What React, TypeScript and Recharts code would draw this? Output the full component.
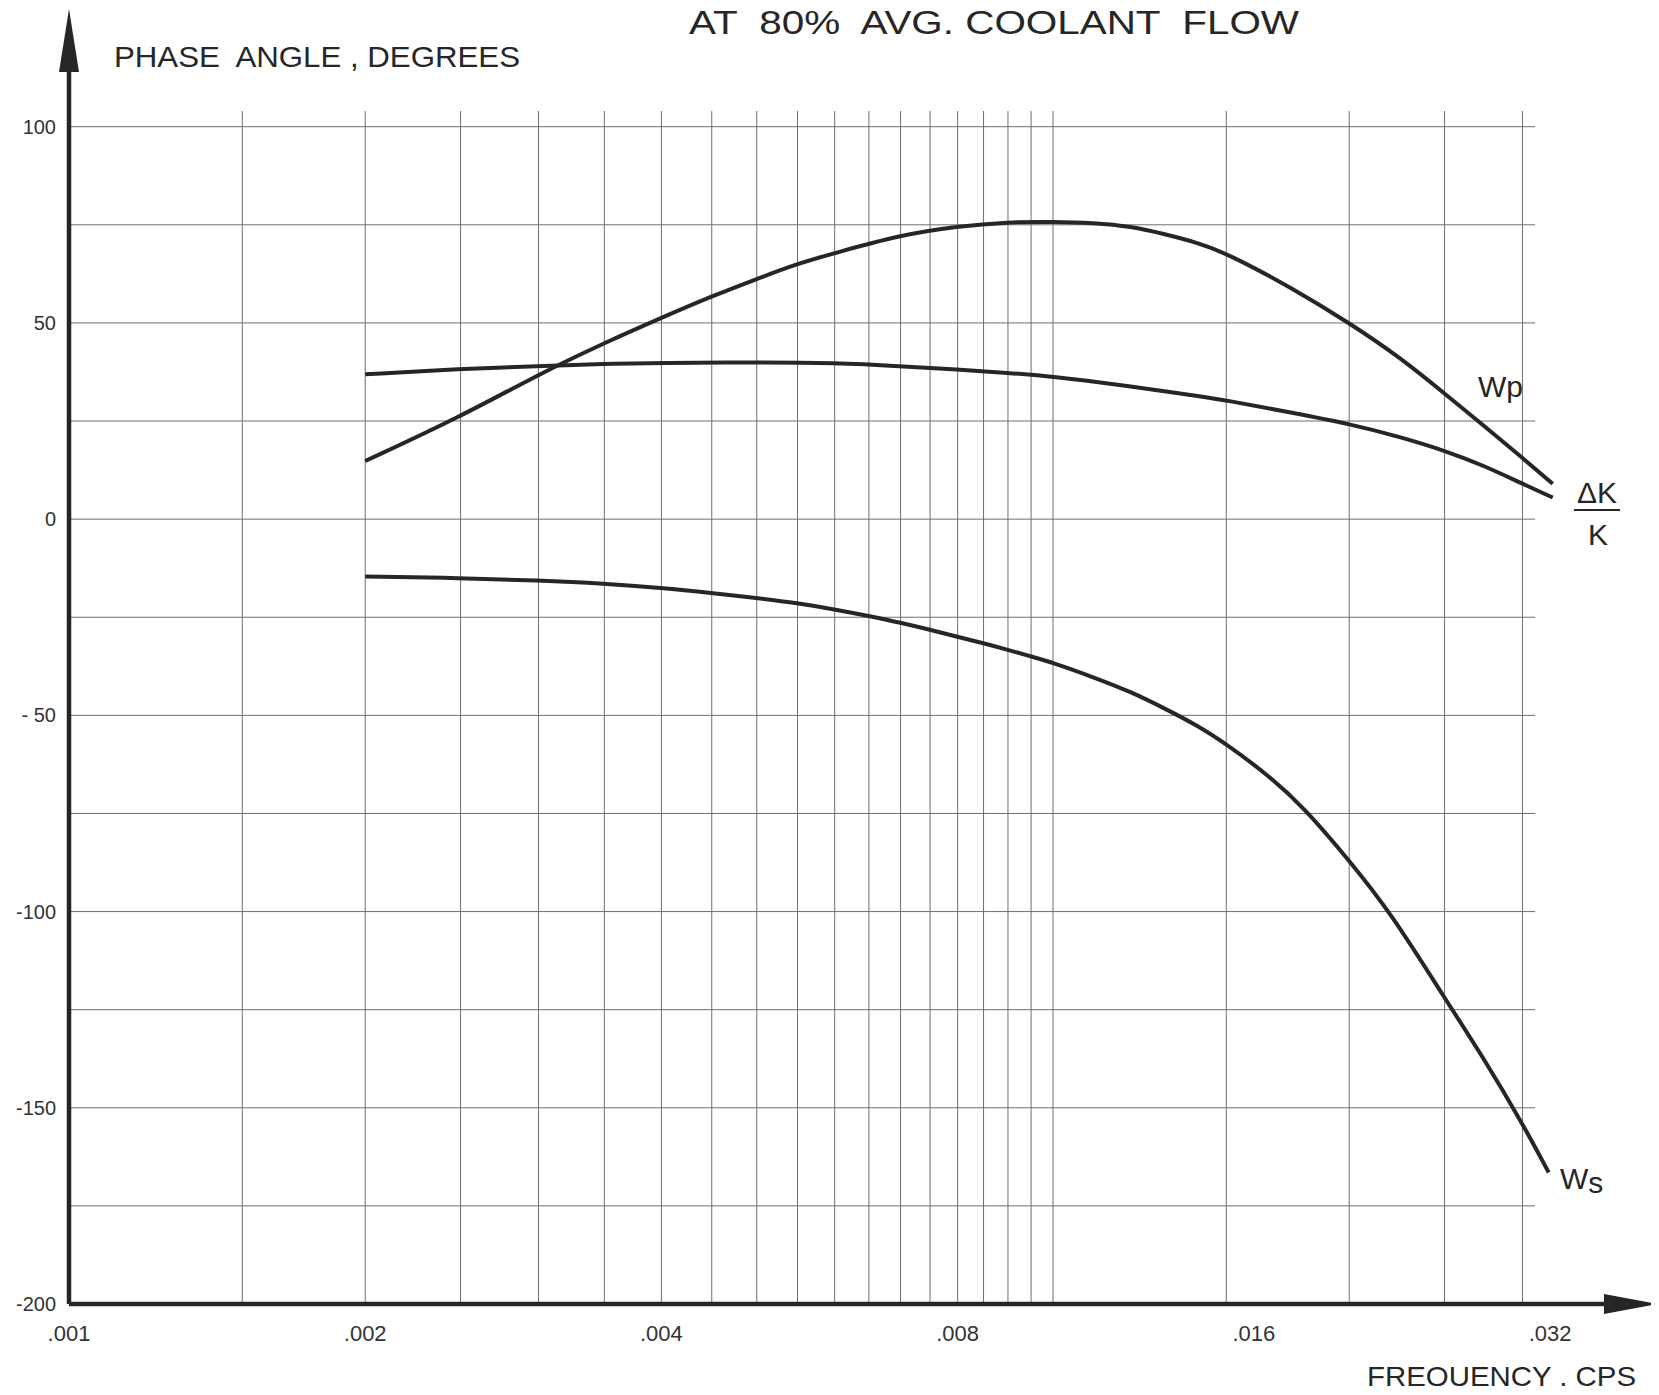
import { LineChart, Line, XAxis, YAxis, ReferenceLine } from 'recharts';

// axis ticks
const freqTicks = [0.001, 0.002, 0.004, 0.008, 0.016, 0.032];
const phaseTicks = [100, 50, 0, -50, -100, -150, -200];
const phaseTickText: Record<string, string> = {
  '100': '100', '50': '50', '0': '0', '-50': '- 50', '-100': '-100', '-150': '-150', '-200': '-200',
};

// grid of the log paper
const freqGrid = [
  0.0015, 0.002, 0.0025, 0.003, 0.0035, 0.004, 0.0045, 0.005, 0.0055, 0.006, 0.0065,
  0.007, 0.0075, 0.008, 0.0085, 0.009, 0.0095, 0.01, 0.015, 0.02, 0.025, 0.03,
];
const phaseGrid = [100, 75, 50, 25, 0, -25, -50, -75, -100, -125, -150, -175];

// Wp
const wpFreq = [0.002, 0.0025, 0.003, 0.0035, 0.004, 0.0045, 0.005, 0.0055, 0.006, 0.007, 0.008, 0.009, 0.01, 0.011, 0.012, 0.013, 0.014, 0.015, 0.0175, 0.02, 0.0225, 0.025, 0.0275, 0.03, 0.0322];
const wpPhase = [14.8, 26.1, 36.9, 44.9, 51.3, 56.8, 61.2, 65.1, 67.8, 72.4, 74.6, 75.7, 75.8, 75.5, 74.6, 72.6, 70.5, 67.8, 58.9, 50, 41.3, 32, 23.5, 15.6, 9];

// dK/K
const dkFreq = [0.002, 0.0025, 0.003, 0.0035, 0.004, 0.005, 0.006, 0.007, 0.008, 0.009, 0.01, 0.012, 0.014, 0.015, 0.0175, 0.02, 0.0225, 0.025, 0.0275, 0.03, 0.0322];
const dkPhase = [36.9, 38.3, 39.0, 39.6, 39.8, 40.0, 39.8, 39.0, 38.1, 37.3, 36.3, 33.9, 31.4, 30.3, 27.1, 24.3, 21, 17.5, 13.5, 9, 5.5];

// Ws
const wsFreq = [0.002, 0.0025, 0.003, 0.0035, 0.004, 0.0045, 0.005, 0.0055, 0.006, 0.0065, 0.007, 0.0075, 0.008, 0.0085, 0.009, 0.0095, 0.01, 0.011, 0.012, 0.013, 0.014, 0.015, 0.0165, 0.018, 0.02, 0.022, 0.025, 0.0275, 0.03, 0.0319];
const wsPhase = [-14.6, -15.0, -15.6, -16.4, -17.5, -18.8, -20.1, -21.4, -23.0, -24.7, -26.4, -28.2, -30.0, -31.6, -33.3, -35.0, -36.6, -40.3, -44, -48.3, -52.5, -57.3, -65, -73.5, -87, -100, -122, -138, -154, -166.5];

const zip = (fs: number[], ps: number[]) => fs.map((f, i) => ({ f, phase: ps[i] }));

const W = 1651;
const H = 1378;
const XMAX = 0.0411;
const YMAX = 104;
const ink = '#262626';
const gridInk = '#6e6e6e';
const font = '"Liberation Sans", Arial, sans-serif';

const arrowShape = (len: number, half: number) => (p: any) => {
  const { x1, y1, x2, y2 } = p;
  const dx = x2 - x1;
  const dy = y2 - y1;
  const d = Math.hypot(dx, dy) || 1;
  const ux = dx / d;
  const uy = dy / d;
  const bx = x2 - ux * len;
  const by = y2 - uy * len;
  const pts = `${x2},${y2} ${bx - uy * half},${by + ux * half} ${bx + uy * half},${by - ux * half}`;
  return (
    <g>
      <line x1={x1} y1={y1} x2={bx + ux * 2} y2={by + uy * 2} stroke={ink} strokeWidth={4.5} />
      <polygon points={pts} fill={ink} />
    </g>
  );
};

const fmtFreq = (v: number) => '.' + String(Math.round(v * 1000)).padStart(3, '0');

export default function App() {
  return (
    <div style={{ position: 'relative', width: W, height: H }}>
      <LineChart width={W} height={H} margin={{ top: 103, right: 2, bottom: 42, left: 0 }}>
        <XAxis
          type="number"
          dataKey="f"
          scale="log"
          domain={[0.001, XMAX]}
          allowDataOverflow
          ticks={freqTicks}
          tickFormatter={fmtFreq}
          axisLine={false}
          tickLine={false}
          tickSize={0}
          tickMargin={21}
          height={40}
          tick={{ fontSize: 22, fill: '#333', fontFamily: font }}
        />
        <YAxis
          type="number"
          domain={[-200, YMAX]}
          allowDataOverflow
          ticks={phaseTicks}
          tickFormatter={(v: number) => phaseTickText[String(v)] ?? String(v)}
          axisLine={false}
          tickLine={false}
          tickSize={0}
          tickMargin={13}
          width={61}
          tick={{ fontSize: 20, fill: '#333', fontFamily: font }}
        />

        {freqGrid.map(f => (
          <ReferenceLine key={'v' + f} x={f} stroke={gridInk} strokeWidth={1} />
        ))}
        {phaseGrid.map(v => (
          <ReferenceLine
            key={'h' + v}
            segment={[{ x: 0.001, y: v }, { x: 0.0309, y: v }]}
            stroke={gridInk}
            strokeWidth={1}
          />
        ))}

        <Line data={zip(wpFreq, wpPhase)} dataKey="phase" type="basis" stroke={ink} strokeWidth={4} dot={false} isAnimationActive={false} />
        <Line data={zip(dkFreq, dkPhase)} dataKey="phase" type="basis" stroke={ink} strokeWidth={4} dot={false} isAnimationActive={false} />
        <Line data={zip(wsFreq, wsPhase)} dataKey="phase" type="basis" stroke={ink} strokeWidth={4} dot={false} isAnimationActive={false} />

        {/* axes with arrow heads */}
        <ReferenceLine
          segment={[{ x: 0.001, y: -200 }, { x: XMAX, y: -200 }]}
          ifOverflow="visible"
          shape={arrowShape(53, 10)}
        />
        <ReferenceLine
          segment={[{ x: 0.001, y: -200 }, { x: 0.001, y: 130 }]}
          ifOverflow="visible"
          shape={arrowShape(63, 10)}
        />
      </LineChart>

      <svg
        width={W}
        height={H}
        style={{ position: 'absolute', left: 0, top: 0, pointerEvents: 'none', overflow: 'visible' }}
        fontFamily={font}
        fill={ink}
      >
        <text x={681} y={26} fontSize={33} textLength={610} lengthAdjust="spacingAndGlyphs" style={{ whiteSpace: 'pre' }}>
          AT  80%  AVG. COOLANT  FLOW
        </text>
        <text x={106} y={59} fontSize={30} textLength={406} lengthAdjust="spacingAndGlyphs" style={{ whiteSpace: 'pre' }}>
          PHASE  ANGLE , DEGREES
        </text>
        <text x={1359} y={1378} fontSize={28} textLength={269} lengthAdjust="spacingAndGlyphs" style={{ whiteSpace: 'pre' }}>
          FREQUENCY . CPS
        </text>
        <text x={1470} y={389} fontSize={30}>Wp</text>
        <text x={1552} y={1181} fontSize={30}>
          W<tspan dy={4}>s</tspan>
        </text>
        <text x={1589} y={495} fontSize={30} textAnchor="middle">ΔK</text>
        <line x1={1566} y1={502} x2={1612} y2={502} stroke={ink} strokeWidth={2} />
        <text x={1590} y={537} fontSize={30} textAnchor="middle">K</text>
      </svg>
    </div>
  );
}
